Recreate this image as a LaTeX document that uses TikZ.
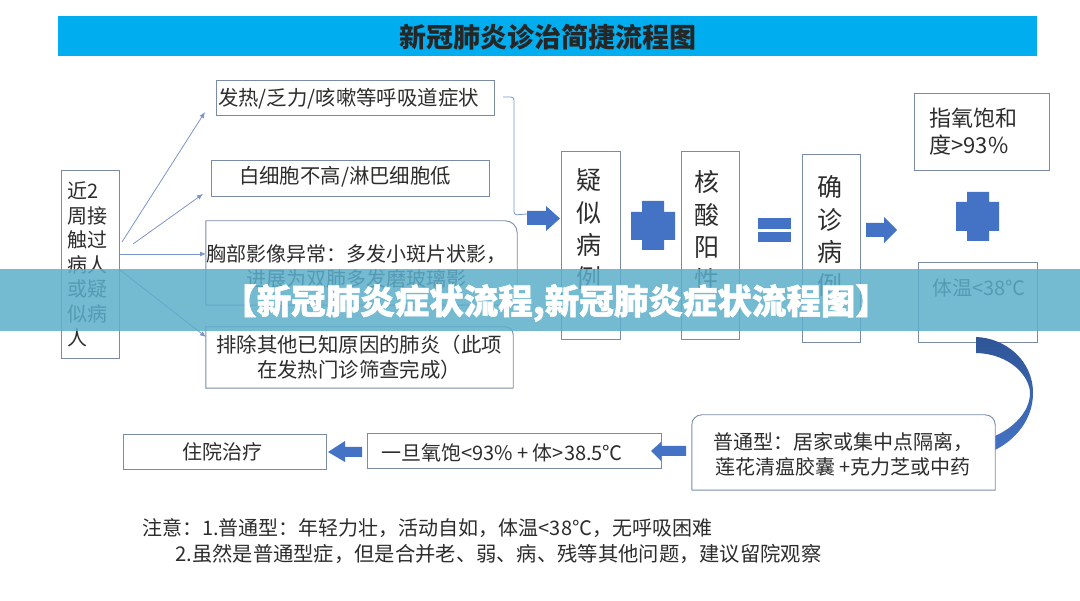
\documentclass[tikz,border=0pt]{standalone}
\usepackage{fontspec}
\setmainfont{Noto Sans CJK SC}
\newfontfamily\heavyfont{Noto Sans CJK SC}[BoldFeatures={FakeBold=1.5}]
\usetikzlibrary{arrows.meta,calc}
\definecolor{barblue}{RGB}{0,174,239}
\definecolor{edgegrey}{RGB}{122,139,168}
\definecolor{linkblue}{RGB}{122,150,200}
\definecolor{solidblue}{RGB}{68,114,196}
\definecolor{darkblue}{RGB}{47,85,151}
\definecolor{inktext}{RGB}{45,45,45}
\definecolor{bannerteal}{RGB}{92,174,202}
\tikzset{
  x=1pt,y=-1pt,
  bx/.style={draw=edgegrey,line width=0.9pt,inner sep=0pt,fill=white},
  ghost/.style={inner sep=0pt},
  txt/.style={inner sep=0pt,text=inktext,align=center,font=\fontsize{20}{25}\selectfont},
  vtxt/.style={inner sep=0pt,text=inktext,align=center,font=\fontsize{25}{32.6}\selectfont},
  link/.style={draw=linkblue,line width=0.8pt,-{Latex[length=6pt,width=5pt]}},
  bracket/.style={draw=linkblue,line width=0.8pt,rounded corners=3pt},
  solid shape/.style={fill=solidblue,draw=none},
}
\begin{document}
\begin{tikzpicture}
\useasboundingbox (0,0) rectangle (1080,601);
\fill[white] (0,0) rectangle (1080,601);
% title
\node[fill=barblue,minimum width=979pt,minimum height=40pt,inner sep=0pt,text=black!85] (title) at (547.5,36) {};
\node[inner sep=0pt,text=black!85] (titletext) at (548,37.5) {\fontsize{27}{30}\selectfont\bfseries 新冠肺炎诊治简捷流程图};
% left
\node[bx,anchor=north west,minimum width=58pt,minimum height=188pt,text width=46pt,inner xsep=6pt,align=left,text=inktext,
  font=\fontsize{20}{24.5}\selectfont] (src) at (61,170) {近2\\周接\\触过\\病人\\或疑\\似病\\人};
% symptom boxes
\node[bx,minimum width=278pt,minimum height=35pt] (fever) at (355,97.5) {};
\node[txt,font=\fontsize{20.4}{25}\selectfont] (fevertext) at (348.5,99) {发热/乏力/咳嗽等呼吸道症状};
\node[bx,minimum width=278pt,minimum height=36pt] (wbc) at (350,178) {};
\node[txt,font=\fontsize{20.4}{25}\selectfont] (wbctext) at (345,177) {白细胞不高/淋巴细胞低};
\node[ghost,minimum width=311pt,minimum height=84pt] (chest) at (361.5,263) {};
\draw[edgegrey,line width=0.9pt] (chest.south east) -- (chest.south west) -- (chest.north west) [rounded corners=12pt] -- (chest.north east) -- (chest.south east);
\node[txt] (chesttext) at (356,266) {胸部影像异常：多发小斑片状影，\\进展为双肺多发磨玻璃影};
\node[ghost,minimum width=307pt,minimum height=61pt] (exclude) at (359.5,357.5) {};
\draw[edgegrey,line width=0.9pt] (exclude.south east) -- (exclude.south west) -- (exclude.north west) [rounded corners=8pt] -- (exclude.north east) -- (exclude.south east);
\node[txt,font=\fontsize{20.4}{25}\selectfont] (excludetext) at (359,357.5) {排除其他已知原因的肺炎（此项\\在发热门诊筛查完成）};
% links
\coordinate (s1) at (122,242); \coordinate (e1) at (205,112);
\coordinate (s2) at (133,244); \coordinate (e2) at (203,194);
\coordinate (s3) at (120,254); \coordinate (e3) at (206,254);
\coordinate (s4) at (120,270); \coordinate (e4) at (206,337);
\draw[link] (s1) -- (e1);
\draw[link] (s2) -- (e2);
\draw[link] (s3) -- (e3);
\draw[link] (s4) -- (e4);
% bracket
\coordinate (bk1) at (503,97); \coordinate (bk2) at (514,97); \coordinate (bk3) at (514,215); \coordinate (bk4) at (527,214);
\draw[bracket] (bk1) -- (bk2) -- (bk3) -- (bk4);
% chain
\fill[solid shape] (527,211) -- (546,211) -- (546,206) -- (560,218.5) -- (546,231) -- (546,225) -- (527,225) -- cycle;
\node[bx,minimum width=59pt,minimum height=188pt] (sus) at (590.5,245) {};
\node[vtxt] (sustext) at (589,229) {疑\\似\\病\\例};
\fill[solid shape] (642,201) -- (664,201) -- (664,212) -- (675,212) -- (675,240) -- (664,240) -- (664,250) -- (642,250) -- (642,240) -- (631,240) -- (631,212) -- (642,212) -- cycle;
\node[bx,minimum width=58pt,minimum height=188pt] (nuc) at (710,245) {};
\node[vtxt] (nuctext) at (707,231) {核\\酸\\阳\\性};
\fill[solid shape] (758,218) rectangle (791,229);
\fill[solid shape] (758,232) rectangle (791,242);
\node[bx,minimum width=58pt,minimum height=188pt] (conf) at (831,248) {};
\node[vtxt] (conftext) at (830,236) {确\\诊\\病\\例};
\fill[solid shape] (866,223) -- (884,223) -- (884,217) -- (897,230) -- (884,243) -- (884,237) -- (866,237) -- cycle;
\node[bx,anchor=north west,minimum width=121pt,minimum height=77pt,text width=105pt,inner xsep=15pt,align=left,text=inktext,font=\fontsize{22}{27}\selectfont] (spo) at (914,93) {指氧饱和\\度>93\%};
\fill[solid shape] (967,192) -- (989,192) -- (989,202) -- (999,202) -- (999,231) -- (989,231) -- (989,241) -- (967,241) -- (967,231) -- (956,231) -- (956,202) -- (967,202) -- cycle;
\node[bx,minimum width=119pt,minimum height=80pt] (temp) at (978,302) {};
\node[txt] (temptext) at (979,288) {体温<38℃};
% curved
\shade[top color=darkblue,bottom color=solidblue] (976,337) .. controls (1005,338) and (1033,360) .. (1033,393)
   .. controls (1033,420) and (1015,440) .. (995,450) -- (995,436)
   .. controls (1013,428) and (1030,412) .. (1030,393)
   .. controls (1030,378) and (1012,354) .. (976,353) -- cycle;
% bottom row
\node[ghost,minimum width=303pt,minimum height=75pt] (home) at (843.5,452.5) {};
\draw[edgegrey,line width=0.9pt,fill=white,rounded corners=10pt] (home.south west) [sharp corners] -- (home.south east) [rounded corners=10pt] -- (home.north east) -- (home.north west) [sharp corners] -- (home.south west);
\node[txt] (hometext) at (843,454.5) {普通型：居家或集中点隔离，\\莲花清瘟胶囊 +克力芝或中药};
\node[bx,minimum width=294pt,minimum height=35pt] (once) at (514,450.5) {};
\node[txt] (oncetext) at (502,452.5) {一旦氧饱<93\% + 体>38.5℃};
\fill[solid shape] (686,446) -- (661,446) -- (661,442) -- (651,451) -- (661,461) -- (661,456) -- (686,456) -- cycle;
\node[bx,minimum width=203pt,minimum height=35pt,text=inktext,font=\fontsize{20}{25}\selectfont] (hosp) at (224.5,451.5) {};
\node[txt] (hosptext) at (222,451.5) {住院治疗};
\fill[solid shape] (362,447) -- (345,447) -- (345,441) -- (328,452) -- (345,462) -- (345,457) -- (362,457) -- cycle;
% notes
\node[inner sep=0pt,anchor=west,text=inktext,font=\fontsize{20}{22}\selectfont] (note1) at (142,528) {注意：1.普通型：年轻力壮，活动自如，体温<38℃，无呼吸困难};
\node[inner sep=0pt,anchor=west,text=inktext,font=\fontsize{20.3}{22}\selectfont] (note2) at (175,554) {2.虽然是普通型症，但是合并老、弱、病、残等其他问题，建议留院观察};
% banner
\fill[bannerteal,fill opacity=0.85] (0,269) rectangle (1080,331);
\node[inner sep=0pt,text=white,font=\heavyfont\fontsize{34.5}{36}\selectfont\bfseries] (banner) at (556,303) {【新冠肺炎症状流程,新冠肺炎症状流程图】};
\end{tikzpicture}
\end{document}
